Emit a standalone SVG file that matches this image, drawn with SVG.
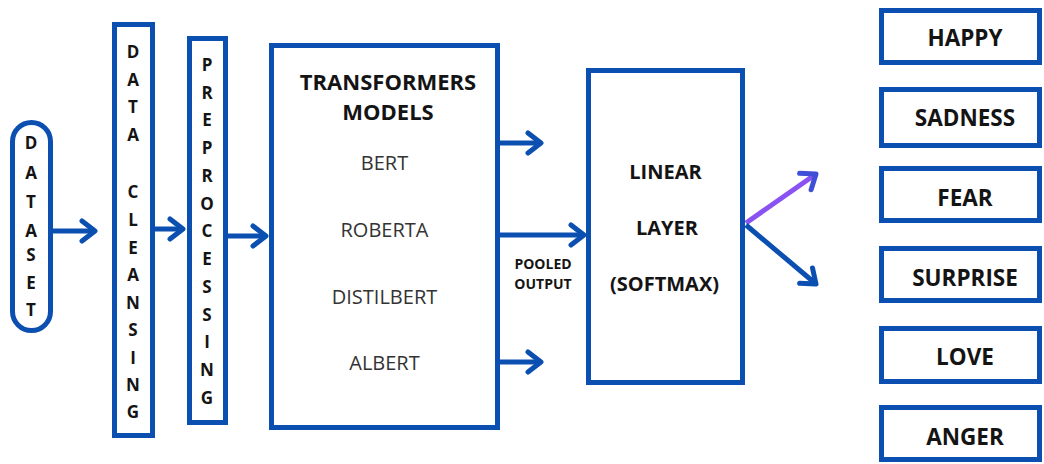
<svg xmlns="http://www.w3.org/2000/svg" width="1044" height="464" viewBox="0 0 1044 464">
  <defs>
    <style>
      .box { fill: #ffffff; stroke: #0b4fb1; stroke-width: 5; }
      .link { fill: none; stroke: #0b4fb1; stroke-width: 5; }
      .link-hi { fill: none; stroke: #8a52f2; stroke-width: 5; }
      .v { font-family: "Open Sans", "Liberation Sans", sans-serif; font-weight: 700; font-size: 17px; fill: #141414; text-anchor: middle; }
      .title { font-family: "Open Sans", "Liberation Sans", sans-serif; font-weight: 700; font-size: 22px; fill: #141414; text-anchor: middle; }
      .model { font-family: "Open Sans", "Liberation Sans", sans-serif; font-weight: 400; font-size: 20px; fill: #333333; text-anchor: middle; }
      .small { font-family: "Open Sans", "Liberation Sans", sans-serif; font-weight: 700; font-size: 14px; fill: #141414; text-anchor: middle; }
      .mid { font-family: "Open Sans", "Liberation Sans", sans-serif; font-weight: 700; font-size: 20px; fill: #141414; text-anchor: middle; }
      .out { font-family: "Open Sans", "Liberation Sans", sans-serif; font-weight: 700; font-size: 22.5px; fill: #141414; text-anchor: middle; }
    </style>
    <marker id="chev" markerUnits="userSpaceOnUse" viewBox="0 0 22 26" markerWidth="22" markerHeight="26" refX="17" refY="13" orient="auto">
      <path d="M4,3 L17,13 L4,23" fill="none" stroke="#0b4fb1" stroke-width="5" stroke-linecap="round" stroke-linejoin="round"/>
    </marker>
    <marker id="chev-hi" markerUnits="userSpaceOnUse" viewBox="0 0 22 26" markerWidth="22" markerHeight="26" refX="17" refY="13" orient="auto">
      <path d="M4,3 L17,13 L4,23" fill="none" stroke="#3f4fd6" stroke-width="5" stroke-linecap="round" stroke-linejoin="round"/>
    </marker>
  </defs>

  <rect width="1044" height="464" fill="#ffffff"/>

  <!-- connectors -->
  <g id="connectors">
    <line class="link" x1="53" y1="231" x2="95" y2="231" marker-end="url(#chev)"/>
    <line class="link" x1="155" y1="229" x2="183" y2="229" marker-end="url(#chev)"/>
    <line class="link" x1="228" y1="236" x2="266" y2="236" marker-end="url(#chev)"/>
    <line class="link" x1="500" y1="143" x2="541" y2="143" marker-end="url(#chev)"/>
    <line class="link" x1="500" y1="235" x2="584" y2="235" marker-end="url(#chev)"/>
    <line class="link" x1="500" y1="362" x2="541" y2="362" marker-end="url(#chev)"/>
    <line class="link-hi" x1="746" y1="223" x2="816" y2="174" marker-end="url(#chev-hi)"/>
    <line class="link" x1="746" y1="225" x2="816" y2="284" marker-end="url(#chev)"/>
  </g>

  <!-- dataset -->
  <g id="dataset">
    <rect class="box" x="12.5" y="122.5" width="38" height="208" rx="19"/>
    <text class="v" x="31" y="149">D</text>
    <text class="v" x="31" y="179">A</text>
    <text class="v" x="31" y="208">T</text>
    <text class="v" x="31" y="237">A</text>
    <text class="v" x="31" y="261">S</text>
    <text class="v" x="31" y="289">E</text>
    <text class="v" x="31" y="316">T</text>
  </g>

  <!-- data cleansing -->
  <g id="data-cleansing">
    <rect class="box" x="114.5" y="24.5" width="38" height="411"/>
    <text class="v" x="133" y="58">D</text>
    <text class="v" x="133" y="86">A</text>
    <text class="v" x="133" y="113">T</text>
    <text class="v" x="133" y="141">A</text>
    <text class="v" x="133" y="198">C</text>
    <text class="v" x="133" y="226">L</text>
    <text class="v" x="133" y="254">E</text>
    <text class="v" x="133" y="281">A</text>
    <text class="v" x="133" y="309">N</text>
    <text class="v" x="133" y="336">S</text>
    <text class="v" x="133" y="364">I</text>
    <text class="v" x="133" y="391">N</text>
    <text class="v" x="133" y="418">G</text>
  </g>

  <!-- preprocessing -->
  <g id="preprocessing">
    <rect class="box" x="189.5" y="38.5" width="36" height="384"/>
    <text class="v" x="207" y="71">P</text>
    <text class="v" x="207" y="99">R</text>
    <text class="v" x="207" y="126">E</text>
    <text class="v" x="207" y="154">P</text>
    <text class="v" x="207" y="182">R</text>
    <text class="v" x="207" y="210">O</text>
    <text class="v" x="207" y="237">C</text>
    <text class="v" x="207" y="265">E</text>
    <text class="v" x="207" y="293">S</text>
    <text class="v" x="207" y="321">S</text>
    <text class="v" x="207" y="348">I</text>
    <text class="v" x="207" y="376">N</text>
    <text class="v" x="207" y="404">G</text>
  </g>

  <!-- transformer models -->
  <g id="transformers">
    <rect class="box" x="271.5" y="45.5" width="226" height="382"/>
    <text class="title" x="388" y="90">TRANSFORMERS</text>
    <text class="title" x="388" y="120">MODELS</text>
    <text class="model" x="384.5" y="170">BERT</text>
    <text class="model" x="384.5" y="237">ROBERTA</text>
    <text class="model" x="384.5" y="304">DISTILBERT</text>
    <text class="model" x="384.5" y="370">ALBERT</text>
  </g>

  <g id="pooled-output-label">
    <text class="small" x="543" y="269">POOLED</text>
    <text class="small" x="543" y="289">OUTPUT</text>
  </g>

  <!-- linear layer -->
  <g id="linear-layer">
    <rect class="box" x="588.5" y="70.5" width="154" height="312"/>
    <text class="mid" x="665.5" y="179">LINEAR</text>
    <text class="mid" x="667" y="235">LAYER</text>
    <text class="mid" x="664.5" y="291">(SOFTMAX)</text>
  </g>

  <!-- emotion classes -->
  <g id="happy">
    <rect class="box" x="881.5" y="10.5" width="158" height="52"/>
    <text class="out" x="965" y="46">HAPPY</text>
  </g>
  <g id="sadness">
    <rect class="box" x="881.5" y="89.5" width="158" height="56"/>
    <text class="out" x="965" y="126">SADNESS</text>
  </g>
  <g id="fear">
    <rect class="box" x="881.5" y="168.5" width="158" height="52"/>
    <text class="out" x="965" y="206">FEAR</text>
  </g>
  <g id="surprise">
    <rect class="box" x="881.5" y="248.5" width="158" height="52"/>
    <text class="out" x="965" y="286">SURPRISE</text>
  </g>
  <g id="love">
    <rect class="box" x="881.5" y="328.5" width="158" height="53"/>
    <text class="out" x="965" y="365">LOVE</text>
  </g>
  <g id="anger">
    <rect class="box" x="881.5" y="407.5" width="158" height="52"/>
    <text class="out" x="965" y="445">ANGER</text>
  </g>
</svg>
